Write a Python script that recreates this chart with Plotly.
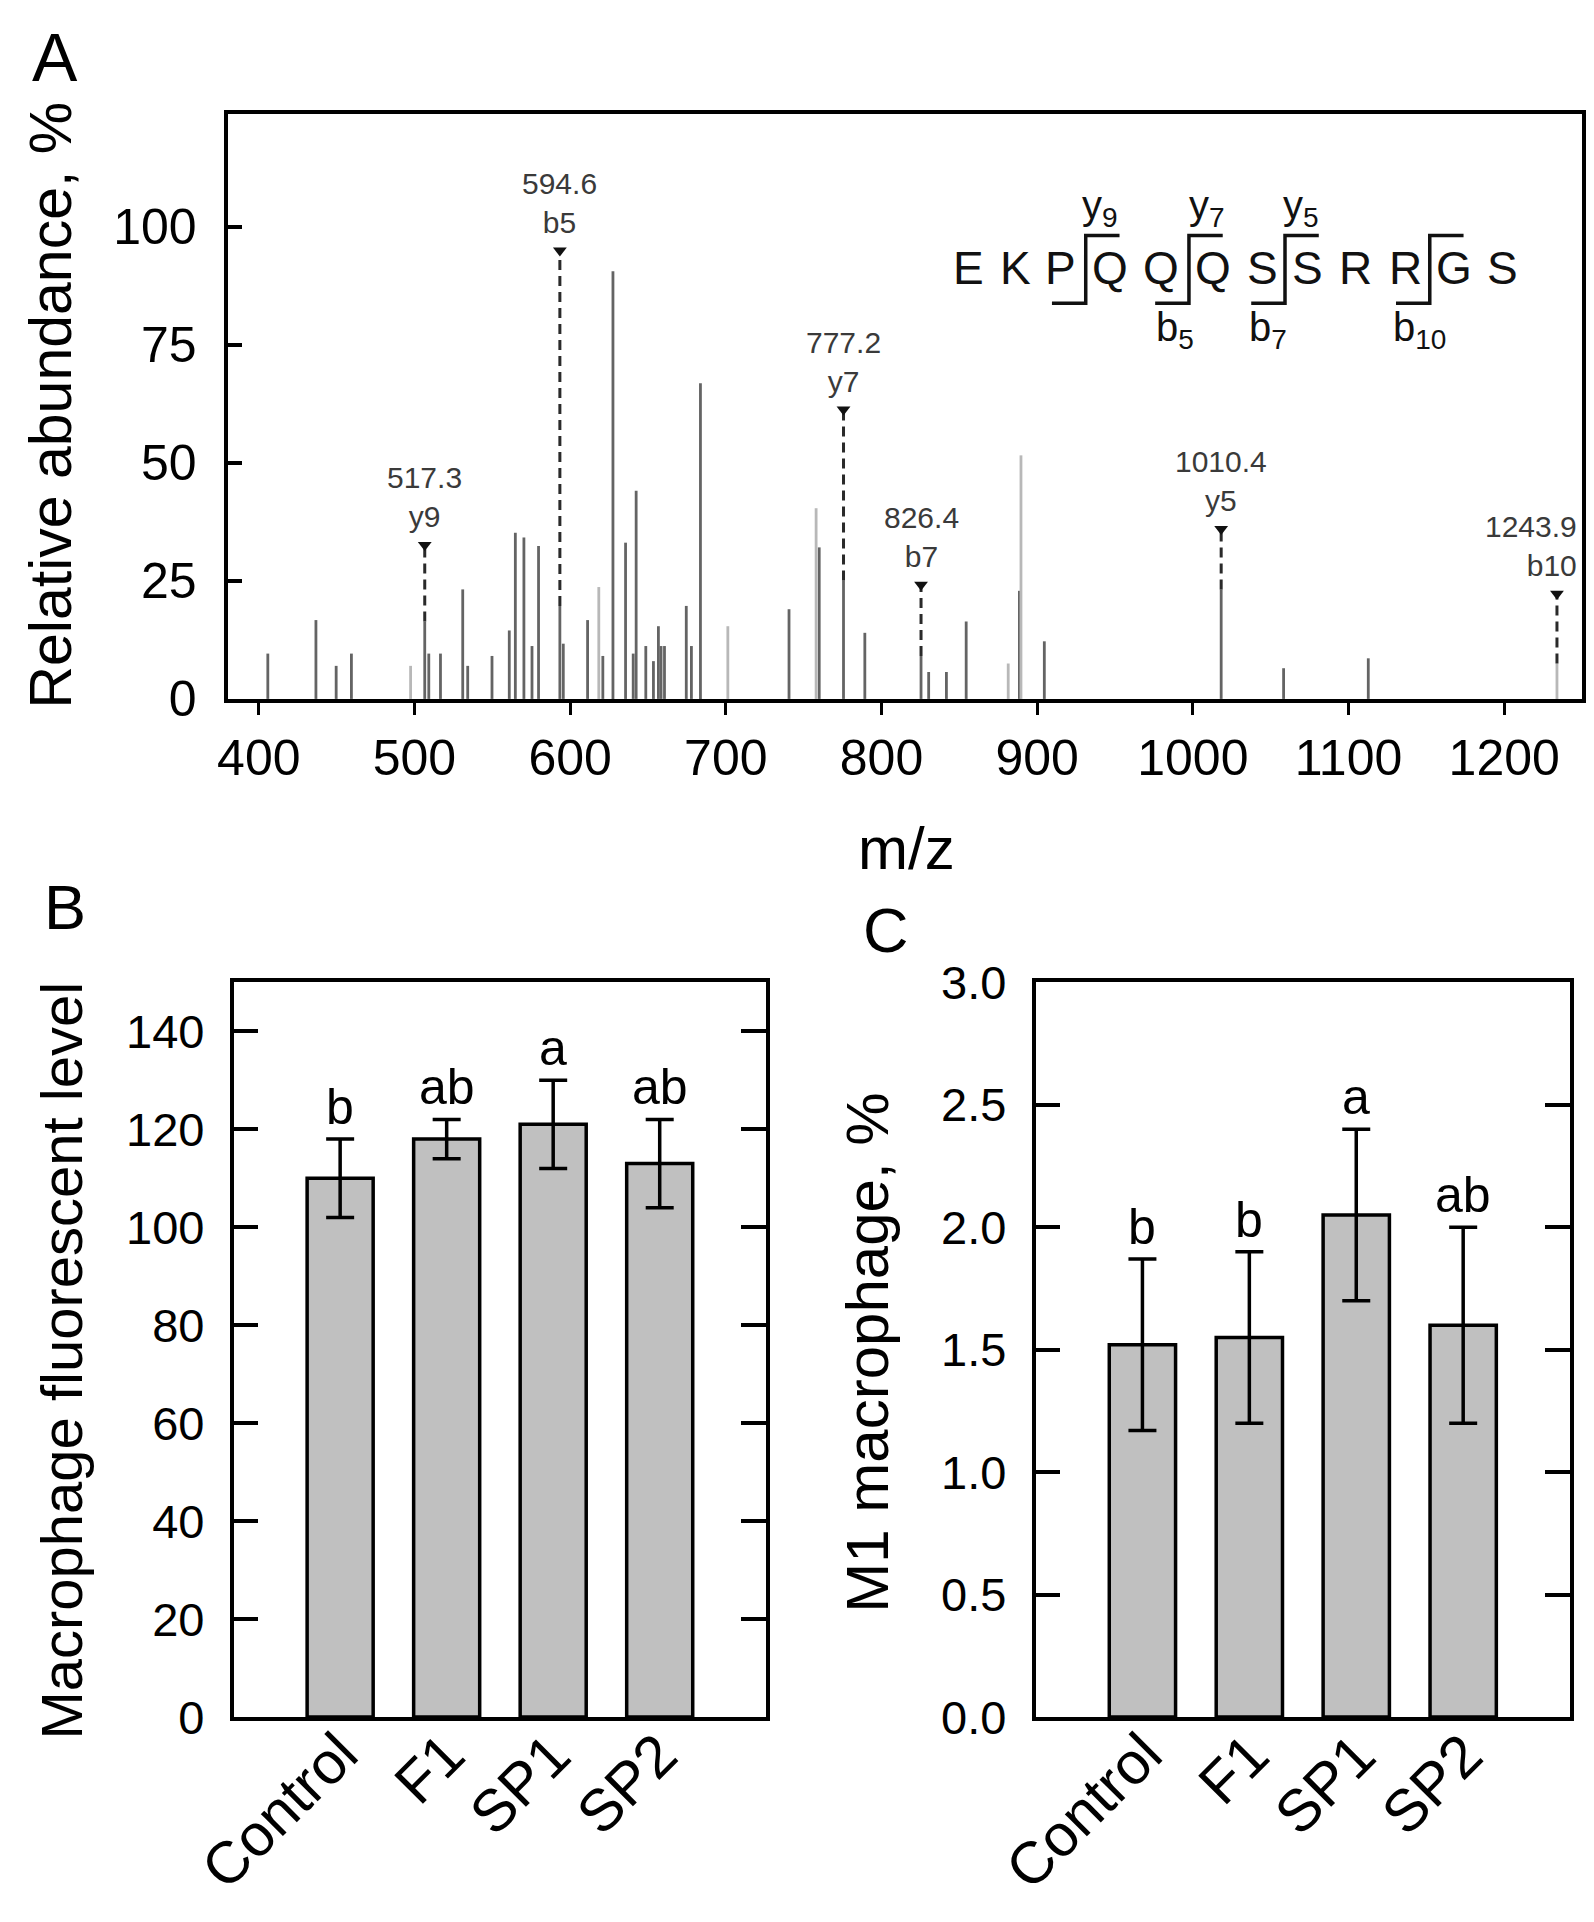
import plotly.graph_objects as go

# page body margin is 8px; keep the figure inside the window without scrollbars
OFF = 8
W, H = 1578, 1906
FONT = "Liberation Sans, Arial, sans-serif"

# ---------------- Panel A data (MS/MS spectrum) ----------------
peak_mz = [405.8, 436.7, 449.7, 459.5, 506.6, 509.2, 516.7, 531.0, 534.2, 549.8,
           560.9, 564.8, 570.3, 575.5, 579.7, 593.4, 595.6, 611.2, 621.0, 627.5,
           635.6, 640.5, 642.4, 648.6, 653.5, 656.7, 658.4, 660.6, 674.6, 677.9,
           683.7, 740.6, 760.0, 775.6, 789.3, 825.4, 830.3, 841.7, 854.4, 888.6,
           904.6, 1018.2, 1058.3, 1112.7]
peak_int = [9.6, 16.7, 7.0, 9.6, 16.4, 9.6, 9.6, 23.2, 7.0, 9.1,
            14.5, 35.2, 34.2, 11.2, 32.4, 19.7, 11.7, 16.7, 9.1, 90.6,
            33.1, 9.6, 44.1, 11.2, 8.0, 15.4, 11.2, 11.2, 19.7, 11.2,
            66.9, 19.0, 32.1, 25.1, 14.0, 9.1, 5.7, 5.7, 16.4, 22.9,
            12.2, 23.2, 6.5, 8.6]
light_mz = [497.5, 618.4, 701.3, 758.0, 881.4, 889.6, 1233.9]
light_int = [7.0, 23.7, 15.4, 40.4, 7.5, 51.6, 7.5]

ion_mz = [506.6, 593.4, 775.6, 825.4, 1018.2, 1233.9]
ion_peak = [16.4, 19.7, 25.1, 9.1, 23.2, 7.5]
ion_marker = [32.6, 95.0, 61.3, 24.2, 36.0, 22.3]
ion_value = ["517.3", "594.6", "777.2", "826.4", "1010.4", "1243.9"]
ion_name = ["y9", "b5", "y7", "b7", "y5", "b10"]

x_ticks_A = [400, 500, 600, 700, 800, 900, 1000, 1100, 1200]
y_ticks_A = [0, 25, 50, 75, 100]

# peptide sequence
seq_letters = ["E", "K", "P", "Q", "Q", "Q", "S", "S", "R", "R", "G", "S"]
seq_x = [856, 886, 915, 946.5, 979.6, 1012.7, 1044.6, 1073.9, 1104.5, 1136.3, 1167.5, 1198.7]
seq_y = 91.2
cut_x = [931.2, 997.5, 1059.2, 1152.2]
cut_half = 21.7
cut_top, cut_bottom = 98.2, 83.8
y_frag_x = [940.4, 1009.0, 1069.4]
y_frag_t = ["y<sub>9</sub>", "y<sub>7</sub>", "y<sub>5</sub>"]
b_frag_x = [988.5, 1048.4, 1145.9]
b_frag_t = ["b<sub>5</sub>", "b<sub>7</sub>", "b<sub>10</sub>"]

# ---------------- Panel B / C data ----------------
groups = ["Control", "F1", "SP1", "SP2"]
fluor_mean = [110, 118, 121, 113]
fluor_err = [8, 4, 9, 9]
fluor_sig = ["b", "ab", "a", "ab"]
m1_mean = [1.52, 1.55, 2.05, 1.60]
m1_err = [0.35, 0.35, 0.35, 0.40]
m1_sig = ["b", "b", "a", "ab"]

fig = go.Figure()

# spectrum peaks
fig.add_trace(go.Bar(x=peak_mz, y=peak_int, width=1.8, marker=dict(color="#646464", line=dict(width=0)),
                     xaxis="x", yaxis="y", showlegend=False))
fig.add_trace(go.Bar(x=light_mz, y=light_int, width=1.8, marker=dict(color="#b8b8b8", line=dict(width=0)),
                     xaxis="x", yaxis="y", showlegend=False))
# dashed ion leader lines
for m, p, t in zip(ion_mz, ion_peak, ion_marker):
    fig.add_trace(go.Scatter(x=[m, m], y=[p, t], mode="lines",
                             line=dict(color="#2a2a2a", width=3, dash="10px,6px"),
                             xaxis="x", yaxis="y", showlegend=False, hoverinfo="skip"))
fig.add_trace(go.Scatter(x=ion_mz, y=ion_marker, mode="markers",
                         marker=dict(symbol="triangle-down", size=12, color="#111111"),
                         xaxis="x", yaxis="y", showlegend=False))

# bars B
fig.add_trace(go.Bar(x=groups, y=fluor_mean, width=0.62,
                     marker=dict(color="#c0c0c0", line=dict(color="black", width=3.5)),
                     error_y=dict(type="data", array=fluor_err, color="black", thickness=3.5, width=14),
                     xaxis="x2", yaxis="y2", showlegend=False))
# bars C
fig.add_trace(go.Bar(x=groups, y=m1_mean, width=0.62,
                     marker=dict(color="#c0c0c0", line=dict(color="black", width=3.5)),
                     error_y=dict(type="data", array=m1_err, color="black", thickness=3.5, width=14),
                     xaxis="x3", yaxis="y3", showlegend=False))

annotations = []
shapes = []

def px(x):
    return (x - OFF) / W

def py(y):
    return 1 - (y - OFF) / H

# ion labels
for m, t, v, n in zip(ion_mz, ion_marker, ion_value, ion_name):
    if n == "b10":
        annotations.append(dict(x=m, y=t, xref="x", yref="y", text=v + "<br>" + n, showarrow=False,
                                xanchor="right", yanchor="bottom", yshift=10, xshift=22, align="right",
                                font=dict(family=FONT, size=30, color="#3a3a3a")))
    else:
        annotations.append(dict(x=m, y=t, xref="x", yref="y", text=v + "<br>" + n, showarrow=False,
                                xanchor="center", yanchor="bottom", yshift=10,
                                font=dict(family=FONT, size=30, color="#3a3a3a")))

# sequence letters
for lx, letter in zip(seq_x, seq_letters):
    annotations.append(dict(x=lx, y=seq_y, xref="x", yref="y", text=letter, showarrow=False,
                            xanchor="center", yanchor="middle",
                            font=dict(family=FONT, size=46, color="#111111")))
for fx, ft in zip(y_frag_x, y_frag_t):
    annotations.append(dict(x=fx, y=103.9, xref="x", yref="y", text=ft, showarrow=False,
                            xanchor="center", yanchor="middle",
                            font=dict(family=FONT, size=40, color="#111111")))
for fx, ft in zip(b_frag_x, b_frag_t):
    annotations.append(dict(x=fx, y=78.1, xref="x", yref="y", text=ft, showarrow=False,
                            xanchor="center", yanchor="middle",
                            font=dict(family=FONT, size=40, color="#111111")))
for cx in cut_x:
    shapes.append(dict(type="path", xref="x", yref="y",
                       path=f"M {cx - cut_half},{cut_bottom} L {cx},{cut_bottom} L {cx},{cut_top} L {cx + cut_half},{cut_top}",
                       line=dict(color="#111111", width=3.5)))

# significance letters
for g, m, e, s in zip(groups, fluor_mean, fluor_err, fluor_sig):
    annotations.append(dict(x=g, y=m + e, xref="x2", yref="y2", text=s, showarrow=False,
                            xanchor="center", yanchor="bottom", yshift=2,
                            font=dict(family=FONT, size=50, color="black")))
for g, m, e, s in zip(groups, m1_mean, m1_err, m1_sig):
    annotations.append(dict(x=g, y=m + e, xref="x3", yref="y3", text=s, showarrow=False,
                            xanchor="center", yanchor="bottom", yshift=2,
                            font=dict(family=FONT, size=50, color="black")))

# rotated category labels (tick labels) just under each bar
for g in groups:
    annotations.append(dict(x=g, y=0, xref="x2", yref="y2", text=g, showarrow=False, textangle=-45,
                            xanchor="right", yanchor="top", xshift=33, yshift=-1,
                            font=dict(family=FONT, size=59, color="black")))
    annotations.append(dict(x=g, y=0, xref="x3", yref="y3", text=g, showarrow=False, textangle=-45,
                            xanchor="right", yanchor="top", xshift=35, yshift=-1,
                            font=dict(family=FONT, size=59, color="black")))

# titles and panel letters
annotations += [
    dict(x=px(41), y=py(389), xref="paper", yref="paper", text="Relative abundance, %", textangle=-90,
         showarrow=False, xanchor="center", yanchor="middle", font=dict(family=FONT, size=59, color="black")),
    dict(x=px(902), y=py(846), xref="paper", yref="paper", text="m/z",
         showarrow=False, xanchor="center", yanchor="middle", font=dict(family=FONT, size=60, color="black")),
    dict(x=px(52), y=py(1374), xref="paper", yref="paper", text="Macrophage fluorescent level", textangle=-90,
         showarrow=False, xanchor="center", yanchor="middle", font=dict(family=FONT, size=58, color="black")),
    dict(x=px(863), y=py(1366), xref="paper", yref="paper", text="M1 macrophage, %", textangle=-90,
         showarrow=False, xanchor="center", yanchor="middle", font=dict(family=FONT, size=60, color="black")),
    dict(x=px(45), y=py(31), xref="paper", yref="paper", text="A",
         showarrow=False, xanchor="center", yanchor="middle", font=dict(family=FONT, size=68, color="black")),
    dict(x=px(55), y=py(906), xref="paper", yref="paper", text="B",
         showarrow=False, xanchor="center", yanchor="middle", font=dict(family=FONT, size=63, color="black")),
    dict(x=px(882), y=py(930), xref="paper", yref="paper", text="C",
         showarrow=False, xanchor="center", yanchor="middle", font=dict(family=FONT, size=63, color="black")),
]

axis_common = dict(showline=True, linecolor="black", showgrid=False, zeroline=False)

fig.update_layout(
    width=W, height=H, margin=dict(l=0, r=0, t=0, b=0),
    paper_bgcolor="white", plot_bgcolor="white", showlegend=False,
    barmode="overlay",
    font=dict(family=FONT, color="black"),
    xaxis=dict(**axis_common, domain=[px(219), px(1582)], anchor="y", range=[380, 1250],
               tickvals=x_ticks_A, ticks="outside", ticklen=12, tickwidth=3, tickcolor="black",
               linewidth=4, mirror=True, tickfont=dict(family=FONT, size=50, color="black")),
    yaxis=dict(**axis_common, domain=[py(692), py(89)], anchor="x", range=[0, 124],
               tickvals=y_ticks_A, ticks="inside", ticklen=14, tickwidth=4, tickcolor="black",
               linewidth=4, mirror=True, tickfont=dict(family=FONT, size=50, color="black"),
               ticklabelstandoff=17),
    xaxis2=dict(**axis_common, domain=[px(225), px(761)], anchor="y2", range=[-1, 4],
                type="category", ticks="", linewidth=3.5, mirror=True, showticklabels=False),
    yaxis2=dict(**axis_common, domain=[py(1741), py(984)], anchor="x2", range=[0, 150],
                tickvals=[0, 20, 40, 60, 80, 100, 120, 140], ticks="inside", ticklen=25, tickwidth=3.5,
                tickcolor="black", linewidth=3.5, mirror="ticks",
                tickfont=dict(family=FONT, size=47, color="black"), ticklabelstandoff=16),
    xaxis3=dict(**axis_common, domain=[px(1032), px(1570)], anchor="y3", range=[-1, 4],
                type="category", ticks="", linewidth=3.5, mirror=True, showticklabels=False),
    yaxis3=dict(**axis_common, domain=[py(1741), py(984)], anchor="x3", range=[0, 3],
                tickvals=[0, 0.5, 1.0, 1.5, 2.0, 2.5, 3.0], ticktext=["0.0", "0.5", "1.0", "1.5", "2.0", "2.5", "3.0"],
                ticks="inside", ticklen=25, tickwidth=3.5,
                tickcolor="black", linewidth=3.5, mirror="ticks",
                tickfont=dict(family=FONT, size=47, color="black"), ticklabelstandoff=16),
    annotations=annotations,
    shapes=shapes,
)

fig.write_html("out.html")
